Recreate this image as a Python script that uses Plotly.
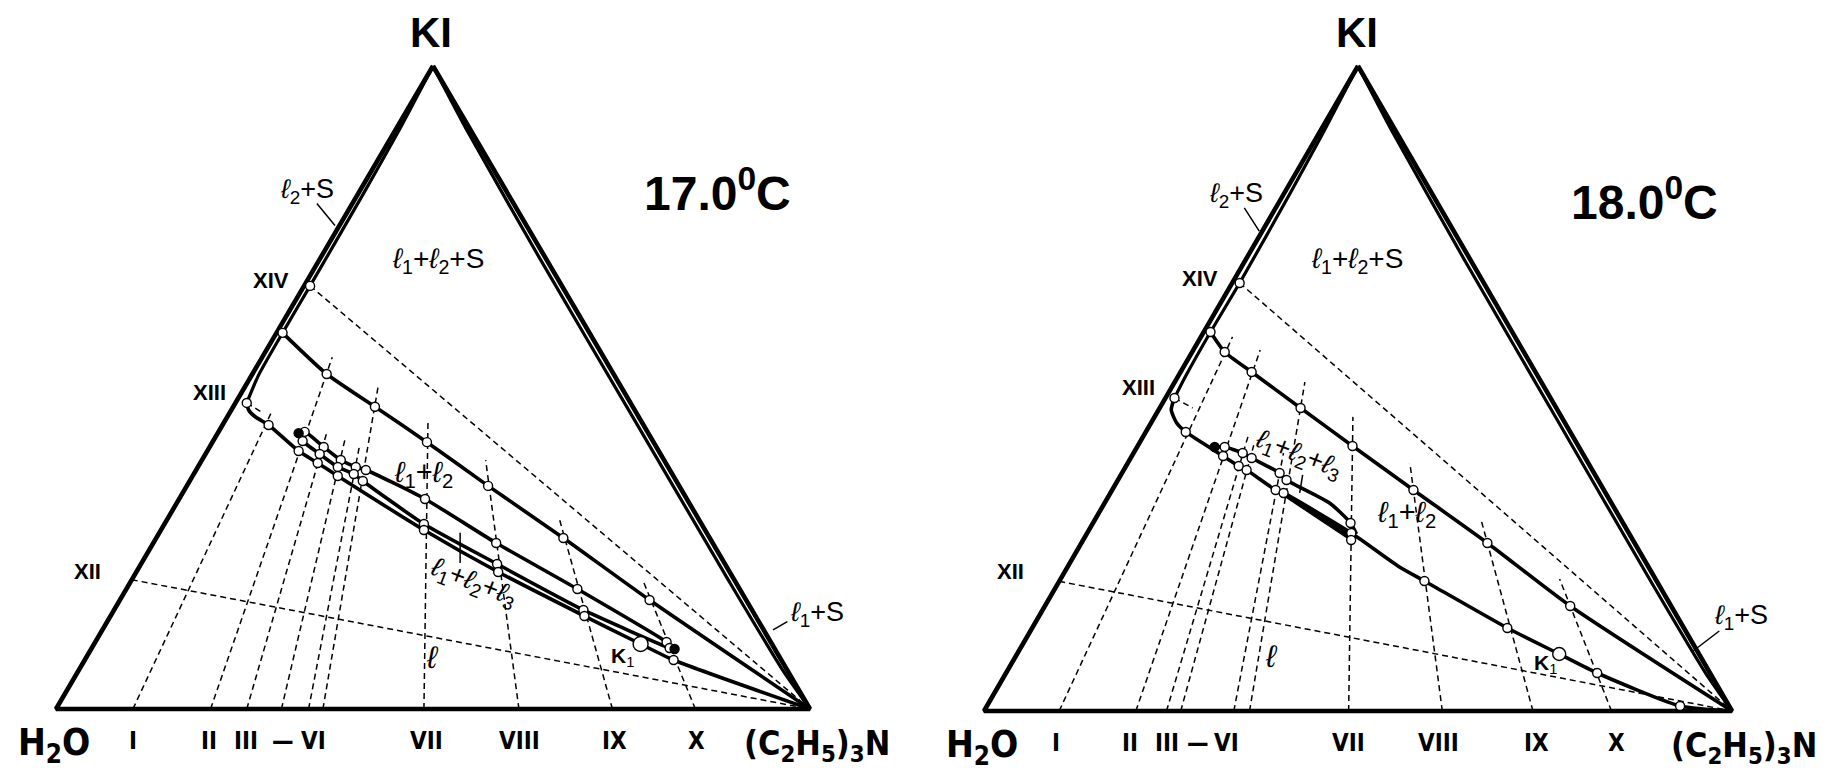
import plotly.graph_objects as go

# Isothermal sections of H2O - KI - (C2H5)3N, mass %.
# Every point is (KI, amine); water is the remainder.

# ---------------- 17.0 C ----------------
t17_sat2_ki = [100, 90, 80, 65.8, 58.5, 52.0, 47.6]      # l2+S boundary (H2O-KI side)
t17_sat2_am = [0, 0.5, 0.7, 0.8, 0.8, 0.9, 1.5]
t17_sat1_ki = [100, 90, 70, 45, 20, 6, 0]                 # l1+S boundary (KI-amine side)
t17_sat1_am = [0, 9.5, 29.2, 54.2, 79.2, 93.4, 100]
t17_up_ki = [58.5, 52.1, 47.0, 41.5, 34.7, 26.6, 16.95, 0]
t17_up_am = [0.8, 9.85, 18.8, 28.45, 39.96, 53.99, 70.25, 100]
t17_mid_ki = [42.9, 43.1, 40.75, 38.72, 37.64, 37.17, 32.66, 25.82, 18.66, 10.42, 9.33]
t17_mid_am = [10.73, 11.43, 15.13, 18.41, 20.94, 22.51, 32.61, 45.47, 59.82, 75.77, 77.38]
t17_lo1_ki = [42.9, 41.68, 39.66, 37.64, 36.55, 35.46, 28.77, 22.55, 15.4, 9.49, 9.33]
t17_lo1_am = [10.73, 11.87, 15.14, 18.55, 21.22, 22.96, 34.41, 47.23, 62.25, 76.64, 77.38]
t17_lo2_ki = [47.6, 46.5, 45.41, 44.17, 40.12, 38.26, 36.24, 27.84, 21.31, 14.46, 10.11, 7.62, 0]
t17_lo2_am = [1.5, 2.3, 3.76, 6.11, 12.12, 15.58, 19.25, 34.88, 47.99, 62.85, 72.48, 78.1, 100]
t17_lo2_pt = [1, 0, 0, 1, 1, 1, 1, 1, 1, 1, 0, 1, 0]
t17_k1 = (10.11, 72.48)
t17_sec_am0 = [10.2, 20.5, 25.3, 29.9, 33.5, 35.4, 48.8, 61.4, 73.8, 84.8]
t17_sec_top = [46.5, 54.7, 43.1, 41.8, 40.6, 50.1, 44.9, 38.7, 29.7, 19.8]
t17_tie_ki = [65.8, 47.6, 20.1]          # XIV, XIII, XII
t17_tie_am = [0.8, 1.5, 0]
t17_tie_end_ki = [0, 46.0, 0]
t17_tie_end_am = [100, 4.5, 100]

# ---------------- 18.0 C ----------------
t18_sat2_ki = [100, 90, 80, 66.36, 58.76, 52.0, 48.53]
t18_sat2_am = [0, 0.5, 0.8, 1.0, 0.9, 1.0, 1.2]
t18_sat1_ki = [100, 90, 70, 45, 20, 6, 0]
t18_sat1_am = [0, 9.5, 29.2, 54.2, 79.2, 93.4, 100]
t18_up_ki = [58.76, 55.66, 52.56, 46.98, 41.09, 34.26, 26.05, 16.28, 0]
t18_up_am = [0.9, 4.35, 9.5, 18.83, 28.72, 40.28, 54.27, 70.23, 100]
t18_mid_ki = [40.93, 40.93, 40.0, 39.22, 36.9, 35.81, 32.25, 29.15, 27.44]
t18_mid_am = [10.37, 11.71, 14.58, 16.17, 21.07, 22.54, 30.07, 34.43, 36.08]
t18_mid_pt = [0, 1, 1, 1, 1, 1, 0, 1, 0]
t18_lo_ki = [48.53, 46.67, 44.65, 43.26, 39.53, 37.98, 37.36, 34.26, 33.8, 27.6, 22.33, 20.16, 12.87, 8.84, 5.89, 0.78, 0]
t18_lo_am = [1.2, 1.7, 3.44, 5.34, 12.2, 15.06, 16.43, 21.86, 23.15, 35.3, 44.38, 48.8, 63.53, 72.48, 79.03, 92.67, 100]
t18_lo_pt = [1, 0, 0, 1, 1, 1, 1, 1, 1, 1, 0, 1, 1, 0, 1, 1, 0]
t18_wedge_ki = [34.26, 27.6, 26.5]
t18_wedge_am = [21.86, 35.3, 35.83]
t18_k1 = (8.84, 72.48)
t18_sec_am0 = [10.05, 20.3, 24.4, 26.3, 33.4, 35.5, 48.75, 61.27, 73.39, 83.89]
t18_sec_top = [58.0, 55.97, 42.5, 41.2, 40.0, 51.0, 45.6, 38.45, 29.6, 20.47]
t18_tie_ki = [66.36, 48.53, 20.1]
t18_tie_am = [1.0, 1.2, 0]
t18_tie_end_ki = [0, 46.98, 0]
t18_tie_end_am = [100, 4.4, 100]

sec_labels = ["I", "II", "III", "—", "VI", "VII", "VIII", "IX", "X"]
t17_lab_x = [10.2, 20.3, 25.2, 30.1, 34.2, 49.2, 61.5, 74.1, 85.0]
t18_lab_x = [9.6, 19.5, 24.5, 28.6, 32.4, 48.7, 60.7, 73.8, 84.5]

SANS = "Liberation Sans, Arial, sans-serif"
NARROW = "Liberation Sans Narrow, DejaVu Sans Condensed, Liberation Sans, Arial, sans-serif"
DASH = "6px,4px"


def xy(ki, am):
    # ternary -> plane: amine vertex at x=100, KI vertex on top
    return [a + k / 2 for k, a in zip(ki, am)], list(ki)


def line(fig, ki, am, ax, width=3.0, dash=None, shape="linear", fill=None):
    x, y = xy(ki, am)
    fig.add_trace(go.Scatter(
        x=x, y=y, mode="lines", xaxis="x" + ax, yaxis="y" + ax,
        line=dict(color="black", width=width, dash=dash, shape=shape, smoothing=0.6),
        fill=fill, fillcolor="black", hoverinfo="skip", showlegend=False))


def pts(fig, ki, am, ax, size=9, color="white"):
    x, y = xy(ki, am)
    fig.add_trace(go.Scatter(
        x=x, y=y, mode="markers", xaxis="x" + ax, yaxis="y" + ax,
        marker=dict(size=size, color=color, line=dict(color="black", width=1.4)),
        hoverinfo="skip", showlegend=False))


def note(fig, text, x, y, ax, size, bold=False, family=SANS, angle=0):
    fig.add_annotation(
        text=text, x=x, y=y, xref="x" + ax, yref="y" + ax, showarrow=False,
        textangle=angle, xanchor="center", yanchor="middle",
        font=dict(family=family, size=size, color="black", weight="bold" if bold else "normal"))


def pick(vals, mask):
    return [v for v, m in zip(vals, mask) if m]


fig = go.Figure()

for ax, d in (("", "t17"), ("2", "t18")):
    g = globals()
    # frame
    line(fig, [100, 0, 0, 100], [0, 0, 100, 0], ax, width=4.6)
    line(fig, g[d + "_sat2_ki"], g[d + "_sat2_am"], ax, width=3.2, shape="spline")
    line(fig, g[d + "_sat1_ki"], g[d + "_sat1_am"], ax, width=3.2, shape="spline")

    # composition sections (toward KI) and tie lines
    for am0, top in zip(g[d + "_sec_am0"], g[d + "_sec_top"]):
        line(fig, [0, top], [am0, am0 * (1 - top / 100)], ax, width=1.5, dash=DASH)
    for k0, a0, k1, a1 in zip(g[d + "_tie_ki"], g[d + "_tie_am"], g[d + "_tie_end_ki"], g[d + "_tie_end_am"]):
        line(fig, [k0, k1], [a0, a1], ax, width=1.5, dash=DASH)

    line(fig, g[d + "_up_ki"], g[d + "_up_am"], ax, width=3.6, shape="spline")

# 17.0 C curves
line(fig, t17_mid_ki, t17_mid_am, "", width=3.6, shape="spline")
line(fig, t17_lo1_ki, t17_lo1_am, "", width=3.6, shape="spline")
line(fig, t17_lo2_ki, t17_lo2_am, "", width=3.6, shape="spline")
pts(fig, t17_up_ki[:-1], t17_up_am[:-1], "")
pts(fig, t17_tie_ki[:1], t17_tie_am[:1], "")
pts(fig, t17_mid_ki[1:-1], t17_mid_am[1:-1], "")
pts(fig, t17_lo1_ki[1:-1], t17_lo1_am[1:-1], "")
pts(fig, pick(t17_lo2_ki, t17_lo2_pt), pick(t17_lo2_am, t17_lo2_pt), "")
pts(fig, [t17_mid_ki[0], t17_mid_ki[-1]], [t17_mid_am[0], t17_mid_am[-1]], "", size=9, color="black")
pts(fig, [t17_k1[0]], [t17_k1[1]], "", size=15)

# 18.0 C curves
line(fig, t18_mid_ki, t18_mid_am, "2", width=3.6, shape="spline")
line(fig, t18_lo_ki, t18_lo_am, "2", width=3.6, shape="spline")
line(fig, t18_wedge_ki + t18_wedge_ki[:1], t18_wedge_am + t18_wedge_am[:1], "2", width=2, fill="toself")
pts(fig, t18_up_ki[:-1], t18_up_am[:-1], "2")
pts(fig, t18_tie_ki[:1], t18_tie_am[:1], "2")
pts(fig, pick(t18_mid_ki, t18_mid_pt), pick(t18_mid_am, t18_mid_pt), "2")
pts(fig, pick(t18_lo_ki, t18_lo_pt), pick(t18_lo_am, t18_lo_pt), "2")
pts(fig, t18_wedge_ki[2:], t18_wedge_am[2:], "2")
pts(fig, [t18_mid_ki[0]], [t18_mid_am[0]], "2", size=9, color="black")
pts(fig, [t18_k1[0]], [t18_k1[1]], "2", size=13)

# pointer strokes (plane coordinates)
ptr = {
    "": [((34.6, 78.6), (37.0, 75.2)), ((95.1, 12.3), (97.0, 13.6)), ((53.6, 27.4), (53.6, 22.7))],
    "2": [((34.8, 78.0), (36.8, 74.4)), ((94.8, 9.3), (98.3, 12.4)), ((42.6, 36.6), (42.2, 33.8))],
}
for ax, segs in ptr.items():
    for (x0, y0), (x1, y1) in segs:
        fig.add_trace(go.Scatter(x=[x0, x1], y=[y0, y1], mode="lines", xaxis="x" + ax, yaxis="y" + ax,
                                 line=dict(color="black", width=1.5), hoverinfo="skip", showlegend=False))

L1 = "<i>ℓ</i><sub>1</sub>"
L2 = "<i>ℓ</i><sub>2</sub>"
L3 = "<i>ℓ</i><sub>3</sub>"
amine = "(C<sub>2</sub>H<sub>5</sub>)<sub>3</sub>N"

for ax, temp, labx, pos in (
    ("", "17.0<sup>0</sup>C", t17_lab_x,
     dict(xiv=(28.5, 66.6), xiii=(20.3, 49.2), xii=(4.2, 21.4), l2s=(33.3, 80.6), l12s=(50.7, 69.8),
          l12=(48.8, 36.6), l123=(55.3, 19.6), l=(50.0, 8.0), k1=(75.1, 8.1), l1s=(100.9, 14.8),
          t=(87.8, 80.7), am=100.9)),
    ("2", "18.0<sup>0</sup>C", t18_lab_x,
     dict(xiv=(28.9, 67.0), xiii=(20.6, 50.2), xii=(3.6, 21.6), l2s=(33.7, 80.0), l12s=(49.9, 69.8),
          l12=(56.5, 30.6), l123=(42.0, 39.7), l=(38.5, 8.4), k1=(75.1, 7.3), l1s=(101.2, 14.6),
          t=(88.3, 79.4), am=101.6)),
):
    note(fig, "KI", 49.8, 105.2, ax, 42, bold=True)
    note(fig, "H<sub>2</sub>O", -0.3, -5.6, ax, 37, bold=True, family=NARROW)
    note(fig, amine, pos["am"], -5.6, ax, 34, bold=True, family=NARROW)
    for lab, x in zip(sec_labels, labx):
        note(fig, lab, x, -5.0, ax, 24, bold=True, family=NARROW)
    note(fig, "XIV", *pos["xiv"], ax, 22, bold=True)
    note(fig, "XIII", *pos["xiii"], ax, 22, bold=True)
    note(fig, "XII", *pos["xii"], ax, 22, bold=True)
    note(fig, L2 + "+S", *pos["l2s"], ax, 27)
    note(fig, L1 + "+" + L2 + "+S", *pos["l12s"], ax, 28)
    note(fig, L1 + "+" + L2, *pos["l12"], ax, 29)
    note(fig, L1 + "+" + L2 + "+" + L3, *pos["l123"], ax, 27, angle=21)
    note(fig, "<i>ℓ</i>", *pos["l"], ax, 31)
    note(fig, "<b>K</b><sub>1</sub>", *pos["k1"], ax, 21)
    note(fig, L1 + "+S", *pos["l1s"], ax, 27)
    note(fig, temp, *pos["t"], ax, 48, bold=True)

# the page body has an 8 px margin, so the plot area is laid out 8 px up and left
hidden = dict(visible=False, showgrid=False, zeroline=False, fixedrange=True)
fig.update_layout(
    width=1830, height=777, margin=dict(l=0, r=0, t=0, b=0),
    paper_bgcolor="white", plot_bgcolor="white", showlegend=False,
    xaxis=dict(domain=[0, 0.5], range=[-6.366, 114.99], **hidden),
    yaxis=dict(domain=[0, 1], range=[-11.82, 109.02], **hidden),
    xaxis2=dict(domain=[0.5, 1], range=[-8.155, 114.17], anchor="y2", **hidden),
    yaxis2=dict(domain=[0, 1], range=[-11.473, 108.99], anchor="x2", **hidden),
)

fig.write_html("out.html")
